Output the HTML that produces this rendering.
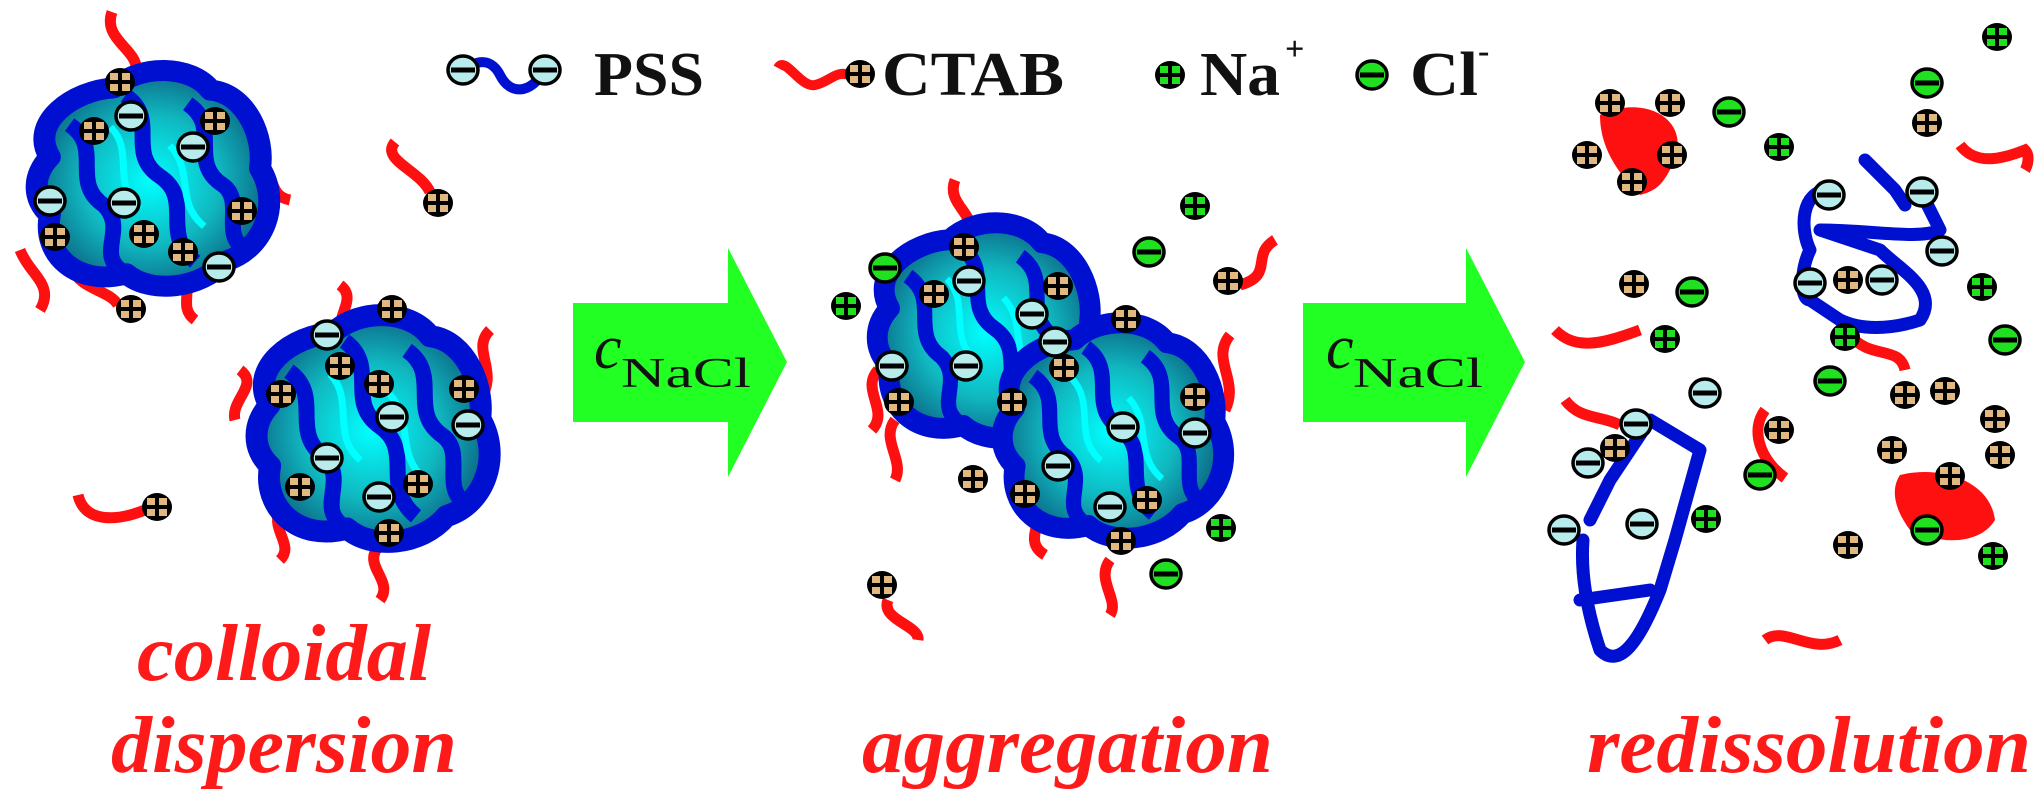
<!DOCTYPE html>
<html><head><meta charset="utf-8"><style>
html,body{margin:0;padding:0;background:#fff}
svg{display:block}
</style></head><body>
<svg width="2037" height="804" viewBox="0 0 2037 804" xmlns="http://www.w3.org/2000/svg">
<defs>
<g id="p"><ellipse rx="15" ry="14" fill="#000"/><rect x="-10" y="-9" width="8" height="7" fill="#e0b880"/><rect x="2" y="-9" width="8" height="7" fill="#e0b880"/><rect x="-10" y="2" width="8" height="7" fill="#e0b880"/><rect x="2" y="2" width="8" height="7" fill="#e0b880"/></g>
<g id="m"><ellipse rx="15" ry="14" fill="#b8ecec" stroke="#000" stroke-width="3.5"/><rect x="-12" y="-2.5" width="24" height="5" fill="#000"/></g>
<g id="n"><ellipse rx="15" ry="14" fill="#000"/><rect x="-10" y="-9" width="8" height="7" fill="#20e020"/><rect x="2" y="-9" width="8" height="7" fill="#20e020"/><rect x="-10" y="2" width="8" height="7" fill="#20e020"/><rect x="2" y="2" width="8" height="7" fill="#20e020"/></g>
<g id="c"><ellipse rx="15" ry="14" fill="#20e020" stroke="#000" stroke-width="3.5"/><rect x="-12" y="-2.5" width="24" height="5" fill="#000"/></g>
<radialGradient id="tg" cx="50%" cy="50%" r="60%"><stop offset="0" stop-color="#00ffff"/><stop offset="0.5" stop-color="#10b8c0"/><stop offset="1" stop-color="#0a4a70"/></radialGradient>
<g id="col">
<path d="M-95,-40 C-110,-80 -60,-105 -20,-100 C10,-120 60,-110 75,-80 C110,-70 120,-20 110,10 C125,50 100,95 60,100 C30,125 -20,120 -40,95 C-90,100 -120,60 -105,20 C-120,0 -115,-25 -95,-40 Z" fill="url(#tg)" stroke="#0010d0" stroke-width="22" stroke-linejoin="round"/>
<path d="M-70,-70 C-40,-40 -80,-10 -50,20 C-30,50 -70,70 -40,95" fill="none" stroke="#0010d0" stroke-width="16"/>
<path d="M-10,-90 C20,-60 -20,-30 10,0 C40,30 0,60 30,95" fill="none" stroke="#0010d0" stroke-width="16"/>
<path d="M50,-70 C80,-40 40,-10 70,20 C90,40 60,70 80,90" fill="none" stroke="#0010d0" stroke-width="16"/>
<path d="M-30,-60 C-10,-30 -40,0 -15,30" fill="none" stroke="#00ffff" stroke-width="7"/>
<path d="M25,-30 C45,0 20,30 45,60" fill="none" stroke="#00ffff" stroke-width="7"/>
</g>
</defs>

<g fill="none" stroke="#ff1010" stroke-width="11" stroke-linecap="butt">
<path d="M112,12 C102,40 140,50 136,72"/>
<path d="M60,120 C40,140 55,170 45,190"/>
<path d="M20,250 C30,275 55,285 40,310"/>
<path d="M72,268 C80,290 110,290 118,305"/>
<path d="M175,270 C200,285 175,305 195,320"/>
<path d="M250,165 C280,170 265,195 290,200"/>
<path d="M395,142 C380,160 420,170 430,192"/>
<path d="M340,285 C360,300 330,320 345,335"/>
<path d="M240,370 C260,385 230,400 235,420"/>
<path d="M490,330 C470,350 500,370 480,400"/>
<path d="M280,510 C270,530 295,545 280,560"/>
<path d="M380,545 C360,565 395,580 380,600"/>
<path d="M78,495 C85,525 120,520 145,510"/>
<path d="M955,180 C945,205 980,215 970,240"/>
<path d="M878,370 C860,390 890,410 872,430"/>
<path d="M895,420 C880,440 905,460 895,480"/>
<path d="M1230,335 C1210,360 1240,380 1225,410"/>
<path d="M1275,240 C1250,255 1275,275 1240,285"/>
<path d="M1110,560 C1095,580 1120,600 1110,615"/>
<path d="M888,600 C880,620 920,625 918,640"/>
<path d="M1030,500 C1050,520 1020,540 1045,555"/>
<path d="M1555,330 C1575,350 1600,345 1640,330"/>
<path d="M1960,145 C1975,165 2000,160 2025,150 C2030,155 2028,165 2025,170"/>
<path d="M1850,335 C1870,360 1900,345 1905,370"/>
<path d="M1765,410 C1750,430 1760,460 1785,478"/>
<path d="M1565,400 C1580,420 1600,415 1620,425"/>
<path d="M1765,640 C1785,625 1810,655 1840,640"/>
</g>
<path d="M1600,115 C1640,95 1690,115 1675,160 C1665,180 1660,190 1640,195 C1620,175 1600,150 1600,115 Z" fill="#ff1010"/>
<path d="M1900,475 C1940,465 1990,480 1995,520 C1980,545 1940,545 1910,530 C1895,510 1890,490 1900,475 Z" fill="#ff1010"/>

<use href="#col" transform="translate(150,178) rotate(-10) scale(1.0,0.95)"/>
<use href="#col" transform="translate(370,428) rotate(-10) scale(1.0,1.0)"/>
<use href="#col" transform="translate(985,330) rotate(-10) scale(0.95,0.95)"/>
<use href="#col" transform="translate(1110,430) rotate(-10) scale(0.95,0.95)"/>

<g fill="none" stroke="#0010d0" stroke-width="13" stroke-linejoin="round" stroke-linecap="round">
<path d="M1830,190 C1800,190 1800,230 1810,250 C1800,270 1800,300 1810,300 L1840,320 C1860,330 1890,330 1920,320 C1940,290 1900,270 1880,250 L1820,230 C1870,230 1920,240 1940,230 L1920,190"/>
<path d="M1865,160 L1895,190 L1905,205"/>
<path d="M1583,540 C1580,580 1590,620 1600,650 C1620,670 1640,640 1660,590 L1675,540 L1700,450 L1650,420 L1610,480 L1590,520"/>
<path d="M1580,600 L1650,590"/>
</g>

<use href="#p" x="120" y="82"/><use href="#p" x="94" y="131"/><use href="#p" x="215" y="121"/><use href="#p" x="55" y="237"/><use href="#p" x="144" y="234"/><use href="#p" x="183" y="252"/><use href="#p" x="242" y="211"/><use href="#p" x="131" y="309"/><use href="#p" x="438" y="203"/>
<use href="#m" x="131" y="116"/><use href="#m" x="193" y="147"/><use href="#m" x="50" y="201"/><use href="#m" x="124" y="203"/><use href="#m" x="219" y="267"/>
<use href="#p" x="392" y="309"/><use href="#p" x="281" y="394"/><use href="#p" x="340" y="366"/><use href="#p" x="379" y="384"/><use href="#p" x="464" y="389"/><use href="#p" x="418" y="484"/><use href="#p" x="300" y="487"/><use href="#p" x="389" y="533"/><use href="#p" x="157" y="507"/>
<use href="#m" x="327" y="335"/><use href="#m" x="392" y="417"/><use href="#m" x="468" y="425"/><use href="#m" x="327" y="458"/><use href="#m" x="379" y="497"/>
<use href="#p" x="964" y="247"/><use href="#p" x="934" y="294"/><use href="#p" x="1058" y="286"/><use href="#p" x="1126" y="319"/><use href="#p" x="1064" y="368"/><use href="#p" x="899" y="402"/><use href="#p" x="1012" y="402"/><use href="#p" x="973" y="479"/><use href="#p" x="1025" y="494"/><use href="#p" x="1147" y="500"/><use href="#p" x="1121" y="541"/><use href="#p" x="1195" y="397"/><use href="#p" x="1228" y="281"/><use href="#p" x="882" y="585"/>
<use href="#m" x="969" y="281"/><use href="#m" x="1032" y="314"/><use href="#m" x="1055" y="342"/><use href="#m" x="892" y="366"/><use href="#m" x="966" y="366"/><use href="#m" x="1123" y="427"/><use href="#m" x="1195" y="433"/><use href="#m" x="1058" y="466"/><use href="#m" x="1110" y="507"/>
<use href="#n" x="1195" y="206"/><use href="#n" x="846" y="306"/><use href="#n" x="1221" y="528"/>
<use href="#c" x="1149" y="252"/><use href="#c" x="885" y="268"/><use href="#c" x="1166" y="574"/>
<use href="#p" x="1610" y="103"/><use href="#p" x="1670" y="103"/><use href="#p" x="1587" y="155"/><use href="#p" x="1672" y="155"/><use href="#p" x="1632" y="182"/><use href="#p" x="1927" y="123"/><use href="#p" x="1634" y="284"/><use href="#p" x="1848" y="280"/><use href="#p" x="1905" y="395"/><use href="#p" x="1945" y="391"/><use href="#p" x="1995" y="419"/><use href="#p" x="1892" y="450"/><use href="#p" x="2000" y="455"/><use href="#p" x="1950" y="476"/><use href="#p" x="1779" y="430"/><use href="#p" x="1615" y="448"/><use href="#p" x="1848" y="545"/>
<use href="#m" x="1829" y="195"/><use href="#m" x="1922" y="192"/><use href="#m" x="1942" y="251"/><use href="#m" x="1810" y="283"/><use href="#m" x="1882" y="280"/><use href="#m" x="1705" y="393"/><use href="#m" x="1636" y="424"/><use href="#m" x="1588" y="463"/><use href="#m" x="1642" y="524"/><use href="#m" x="1564" y="530"/>
<use href="#n" x="1997" y="37"/><use href="#n" x="1779" y="147"/><use href="#n" x="1665" y="339"/><use href="#n" x="1845" y="337"/><use href="#n" x="1982" y="287"/><use href="#n" x="1706" y="519"/><use href="#n" x="1993" y="556"/>
<use href="#c" x="1927" y="83"/><use href="#c" x="1729" y="112"/><use href="#c" x="1692" y="292"/><use href="#c" x="1830" y="381"/><use href="#c" x="1760" y="475"/><use href="#c" x="1927" y="530"/><use href="#c" x="2005" y="340"/>

<path d="M460,78 C470,60 490,55 500,75 C510,95 530,95 545,70" fill="none" stroke="#0010d0" stroke-width="10"/>
<use href="#m" x="463" y="70"/><use href="#m" x="545" y="70"/>
<text x="594" y="95" font-family="Liberation Serif, serif" font-weight="bold" font-size="62" fill="#111" textLength="110" lengthAdjust="spacingAndGlyphs">PSS</text>
<path d="M778,68 C785,55 800,88 815,85 C830,82 835,70 850,75" fill="none" stroke="#ff1010" stroke-width="10"/>
<use href="#p" x="860" y="74"/>
<text x="882" y="95" font-family="Liberation Serif, serif" font-weight="bold" font-size="62" fill="#111" textLength="182" lengthAdjust="spacingAndGlyphs">CTAB</text>
<use href="#n" x="1170" y="75"/>
<text x="1200" y="95" font-family="Liberation Serif, serif" font-weight="bold" font-size="62" fill="#111" textLength="80" lengthAdjust="spacingAndGlyphs">Na</text>
<text x="1285" y="60" font-family="Liberation Serif, serif" font-weight="bold" font-size="34" fill="#111">+</text>
<use href="#c" x="1372" y="75"/>
<text x="1410" y="95" font-family="Liberation Serif, serif" font-weight="bold" font-size="62" fill="#111" textLength="68" lengthAdjust="spacingAndGlyphs">Cl</text>
<text x="1478" y="62" font-family="Liberation Serif, serif" font-weight="bold" font-size="34" fill="#111">-</text>

<polygon points="573,303 728,303 728,248 787,362 728,477 728,422 573,422" fill="#22ff22"/>
<polygon points="1303,303 1466,303 1466,248 1525,362 1466,477 1466,422 1303,422" fill="#22ff22"/>
<g font-family="Liberation Serif, serif" fill="#111">
<text x="594" y="368" font-size="62" font-style="italic">c</text>
<text x="621" y="387" font-size="42" textLength="130" lengthAdjust="spacingAndGlyphs">NaCl</text>
<text x="1326" y="368" font-size="62" font-style="italic">c</text>
<text x="1353" y="387" font-size="42" textLength="130" lengthAdjust="spacingAndGlyphs">NaCl</text>
</g>

<g font-family="Liberation Serif, serif" font-weight="bold" font-style="italic" fill="#ff1a1a" font-size="80">
<text x="137" y="680" textLength="294" lengthAdjust="spacingAndGlyphs">colloidal</text>
<text x="111" y="772" textLength="346" lengthAdjust="spacingAndGlyphs">dispersion</text>
<text x="862" y="772" textLength="411" lengthAdjust="spacingAndGlyphs">aggregation</text>
<text x="1587" y="772" textLength="444" lengthAdjust="spacingAndGlyphs">redissolution</text>
</g>
</svg>
</body></html>
